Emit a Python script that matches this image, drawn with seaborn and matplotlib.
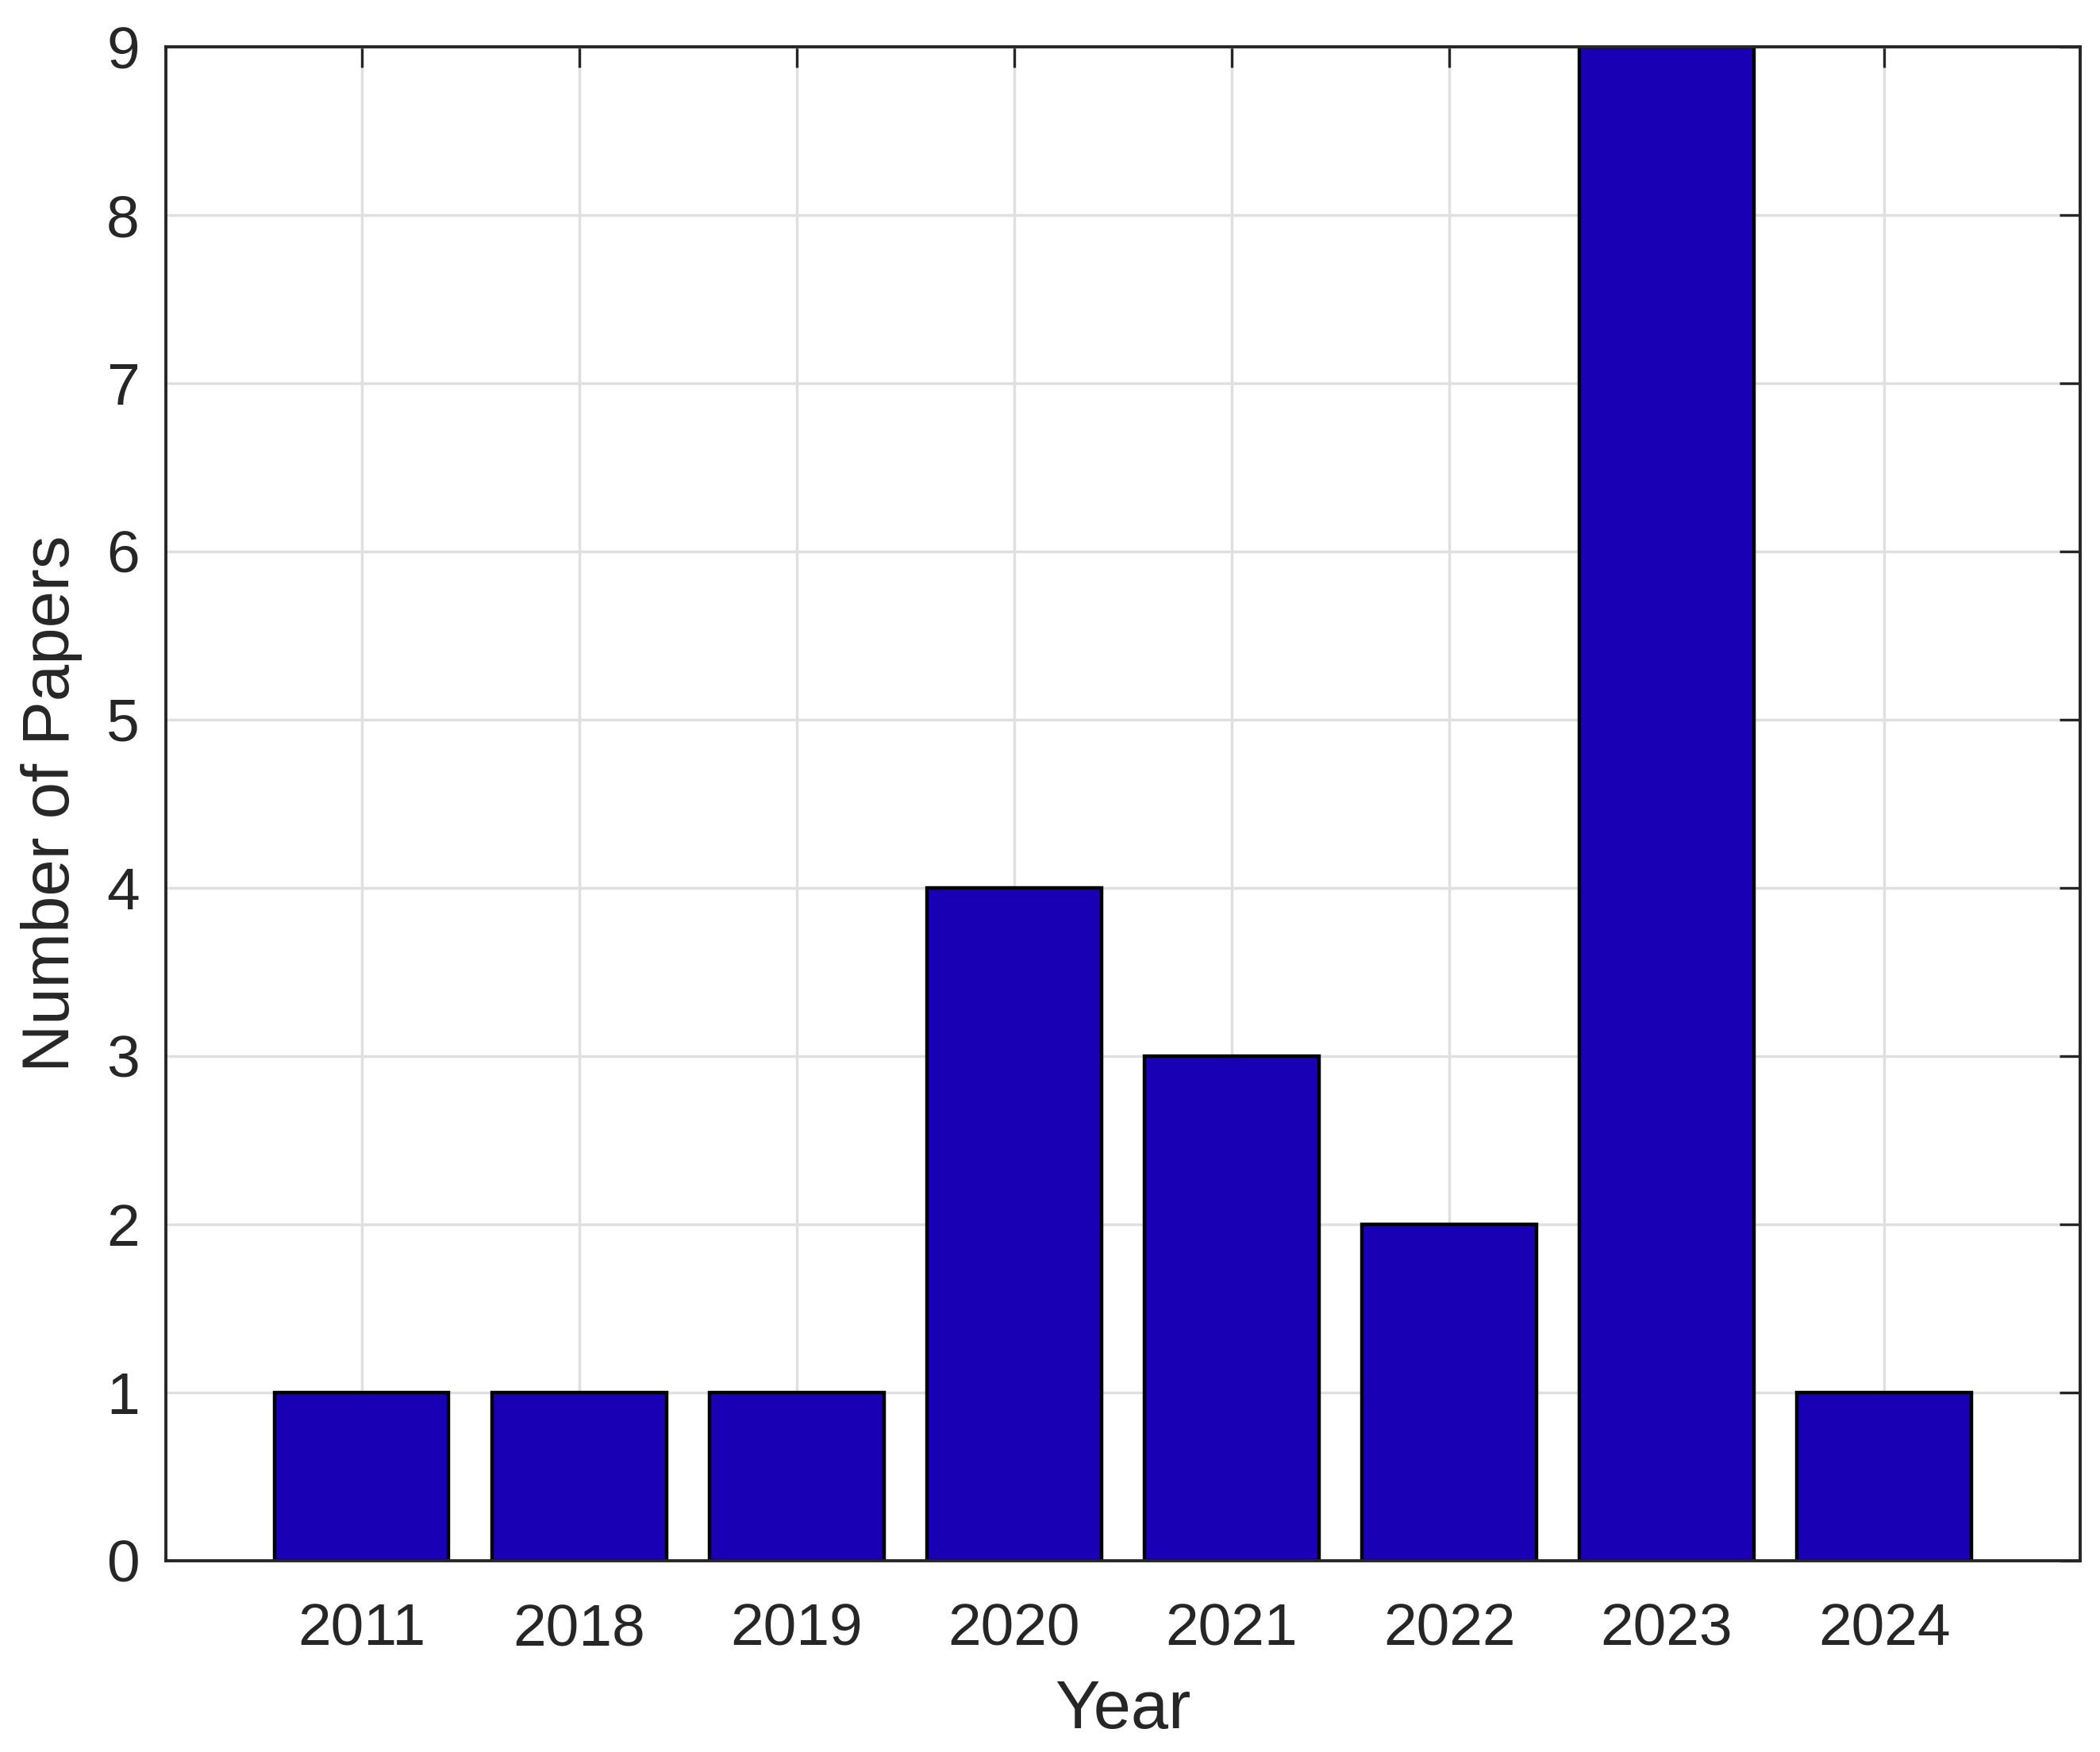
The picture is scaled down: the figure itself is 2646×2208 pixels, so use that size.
import matplotlib
matplotlib.use("Agg")
import matplotlib.pyplot as plt
import seaborn as sns
import pandas as pd

years = ["2011", "2018", "2019", "2020", "2021", "2022", "2023", "2024"]
papers = [1, 1, 1, 4, 3, 2, 9, 1]
y_ticks = [0, 1, 2, 3, 4, 5, 6, 7, 8, 9]

sns.set_theme(style="white")
plt.rcParams["font.family"] = ["Liberation Sans", "DejaVu Sans"]

df = pd.DataFrame({"Year": years, "Papers": papers})

fig = plt.figure(figsize=(26.46, 22.08), dpi=100)
ax = fig.add_axes([124/1568, 1 - 1165/1308, (1553-124)/1568, (1165-35)/1308])

sns.barplot(data=df, x="Year", y="Papers", order=years, color="#1A00B4",
            saturation=1, width=0.8, edgecolor="black", linewidth=3.2, ax=ax, zorder=3)

ax.set_xlim(-0.9, len(years) - 0.1)
ax.set_ylim(0, 9)
ax.set_yticks(y_ticks)
ax.grid(True, color="#DFDFDF", linewidth=2.5, zorder=0)
ax.set_axisbelow(True)

txt = "#262626"
for s in ax.spines.values():
    s.set_color(txt)
    s.set_linewidth(2.8)
    s.set_visible(True)
    s.set_zorder(5)

ax.tick_params(axis="both", direction="in", length=19, width=2.4, color=txt,
               labelcolor=txt, labelsize=54, top=True, right=True)
ax.tick_params(axis="x", pad=38)
ax.tick_params(axis="y", pad=24)
ax.set_xlabel("Year", fontsize=61, color=txt, labelpad=20)
ax.set_ylabel("Number of Papers", fontsize=60, color=txt, labelpad=22)

fig.savefig("out.png", dpi=100)
